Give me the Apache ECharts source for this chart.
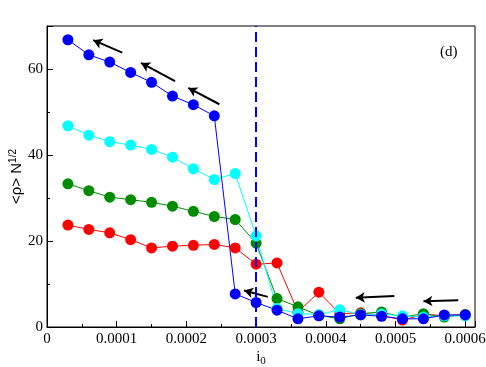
<!DOCTYPE html>
<html>
<head>
<meta charset="utf-8">
<script src="https://cdn.jsdelivr.net/npm/echarts@6/dist/echarts.min.js"></script>
<style>
  html, body { margin: 0; padding: 0; background: #fff; }
  #chart { width: 486px; height: 367px; }
</style>
</head>
<body>
<div id="chart"></div>
<script>
// i0 values (x)
const xs = [0.00003, 0.00006, 0.00009, 0.00012, 0.00015, 0.00018, 0.00021, 0.00024, 0.00027, 0.0003,
            0.00033, 0.00036, 0.00039, 0.00042, 0.00045, 0.00048, 0.00051, 0.00054, 0.00057, 0.0006]

// <rho> N^1/2 for each run
const redVals   = [23.7, 22.7, 21.9, 20.3, 18.4, 18.8, 19.0, 19.2, 18.4, 14.6, 14.9, 3.5, 8.1, 3.1, 3.3, 2.7, 1.6, 2.9, 2.7, 2.9]
const greenVals = [33.3, 31.7, 30.2, 29.6, 29.0, 28.1, 26.9, 25.7, 25.0, 19.5, 6.6, 4.7, 2.7, 1.9, 3.1, 3.5, 2.3, 3.1, 2.3, 2.9]
const cyanVals  = [46.8, 44.6, 43.1, 42.3, 41.3, 39.5, 36.8, 34.3, 35.7, 21.2, 4.3, 3.1, 2.9, 4.0, 2.9, 3.0, 2.6, 2.3, 2.6, 2.6]
const blueVals  = [66.8, 63.3, 61.6, 59.2, 56.9, 53.7, 51.7, 49.1, 7.7, 5.7, 3.9, 1.9, 2.6, 2.3, 2.8, 2.5, 1.9, 1.9, 2.8, 2.8]

// arrows: [x tail, y tail, x head, y head]
const arrows = [
  [0.000108, 63.8, 0.0000664, 66.7],
  [0.0001836, 57.2, 0.0001349, 61.4],
  [0.0002473, 51.8, 0.0002027, 55.6],
  [0.0003167, 7.0, 0.0002827, 8.5],
  [0.0004983, 7.2, 0.000443, 6.8],
  [0.00059, 6.2, 0.00054, 6.0]
]

const threshold = 0.0003
const yTicks = [0, 20, 40, 60]

const serif = 'Liberation Serif'
const chart = echarts.init(document.getElementById('chart'))

const makeSeries = (name, vals, color) => ({
  name: name,
  type: 'line',
  data: xs.map((x, i) => [x, vals[i]]),
  symbol: 'circle',
  symbolSize: 11,
  itemStyle: { color: color },
  lineStyle: { color: color, width: 1 },
  animation: false
})

const series = [
  makeSeries('red', redVals, '#ff0000'),
  makeSeries('green', greenVals, '#008c00'),
  makeSeries('cyan', cyanVals, '#00ffff'),
  makeSeries('blue', blueVals, '#0000ff')
]

// dashed threshold line
series[3].markLine = {
  silent: true,
  symbol: ['none', 'none'],
  label: { show: false },
  lineStyle: { color: '#0000ff', type: [10, 5], width: 2 },
  data: [[{ coord: [threshold, 0] }, { coord: [threshold, 70] }]]
}
// arrows
series[0].markLine = {
  silent: true,
  symbol: ['none', 'arrow'],
  symbolSize: [8, 9],
  label: { show: false },
  lineStyle: { color: '#000', type: 'solid', width: 2 },
  data: arrows.map(a => [{ coord: [a[0], a[1]] }, { coord: [a[2], a[3]] }])
}

chart.setOption({
  animation: false,
  grid: {
    left: 47, top: 26, right: 11, bottom: 40,
    outerBoundsMode: 'none', containLabel: false,
    show: true, borderColor: '#000', borderWidth: 1
  },
  xAxis: [{
    type: 'value', min: 0, max: 0.000614, interval: 0.0001,
    name: '{a|i}{b|0}',
    nameLocation: 'middle', nameGap: 21, nameMoveOverlap: false,
    nameTextStyle: {
      rich: {
        a: { fontFamily: serif, fontSize: 15, color: '#000' },
        b: { fontFamily: serif, fontSize: 11, color: '#000', verticalAlign: 'bottom', padding: [8, 0, 0, 0] }
      }
    },
    axisLine: { lineStyle: { color: '#000' } },
    axisTick: { inside: true, length: 6, lineStyle: { color: '#000' } },
    splitLine: { show: false },
    axisLabel: {
      color: '#000', fontFamily: serif, fontSize: 15, margin: 5,
      formatter: v => v > 0.0006 + 1e-9 ? '' : (v === 0 ? '0' : v.toFixed(4))
    }
  }, {
    type: 'value', min: 0, max: 0.000614, interval: 0.00005, position: 'bottom',
    axisLine: { show: false },
    axisTick: { inside: true, length: 3, lineStyle: { color: '#000' } },
    axisLabel: { show: false },
    splitLine: { show: false }
  }],
  yAxis: [{
    type: 'value', min: 0, max: 70, interval: 20,
    name: '{a|<ρ> N}{b|1/2}',
    nameLocation: 'middle', nameGap: 21, nameRotate: 90, nameMoveOverlap: false,
    nameTextStyle: {
      rich: {
        a: { fontFamily: 'Liberation Sans', fontSize: 15, color: '#000' },
        b: { fontFamily: 'Liberation Sans', fontSize: 10, color: '#000', verticalAlign: 'top', padding: [0, 0, 8, 0] }
      }
    },
    axisLine: { lineStyle: { color: '#000' } },
    axisTick: { inside: true, length: 6, lineStyle: { color: '#000' } },
    splitLine: { show: false },
    axisLabel: {
      color: '#000', fontFamily: serif, fontSize: 15, margin: 4,
      formatter: v => yTicks.includes(v) ? String(v) : ''
    }
  }, {
    type: 'value', min: 0, max: 70, interval: 10, position: 'left',
    axisLine: { show: false },
    axisTick: { inside: true, length: 3, lineStyle: { color: '#000' } },
    axisLabel: { show: false },
    splitLine: { show: false }
  }],
  graphic: [{
    type: 'text', left: 440, top: 45,
    style: { text: '(d)', font: '15px "Liberation Serif"', fill: '#000' }
  }],
  series: series
})
</script>
</body>
</html>
